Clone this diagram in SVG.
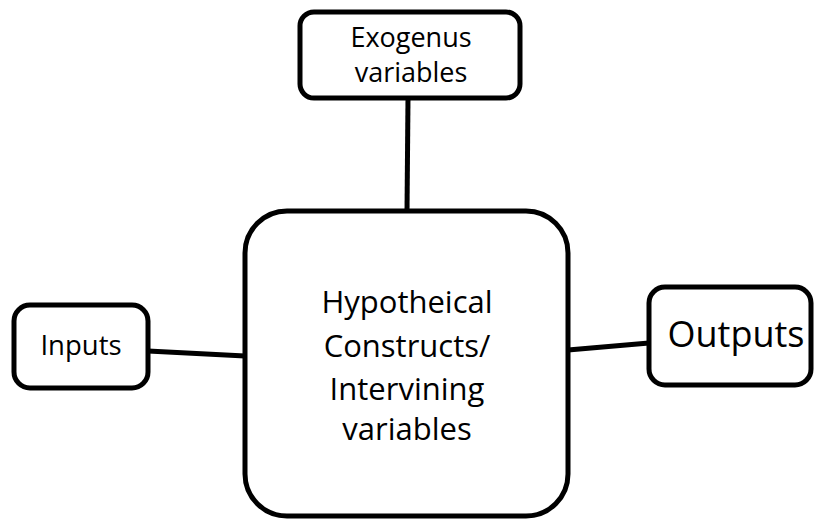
<svg xmlns="http://www.w3.org/2000/svg" width="815" height="521" viewBox="0 0 815 521">
<style>
.box{fill:#fff;stroke:#000;stroke-width:5}
.ln{stroke:#000;stroke-width:5;fill:none}
text{font-family:"Open Sans","Liberation Sans",sans-serif;fill:#000;text-anchor:middle}
.main{font-size:31px}
</style>
<rect width="815" height="521" fill="#fff"/>
<g id="connectors">
<line class="ln" x1="408" y1="98" x2="407" y2="211"/>
<line class="ln" x1="148" y1="351" x2="245" y2="356"/>
<line class="ln" x1="568" y1="350" x2="649" y2="343"/>
</g>
<g id="exogenus">
<rect class="box" x="300" y="12" width="220" height="86" rx="14"/>
<text x="411" y="47" font-size="27">Exogenus</text>
<text x="411" y="82" font-size="27">variables</text>
</g>
<g id="inputs">
<rect class="box" x="14" y="305" width="134" height="83" rx="16"/>
<text x="81" y="355" font-size="27.5">Inputs</text>
</g>
<g id="central">
<rect class="box" x="245" y="211" width="323" height="305" rx="42"/>
<text class="main" x="407" y="313">Hypotheical</text>
<text class="main" x="407" y="357">Constructs/</text>
<text class="main" x="407" y="400">Intervining</text>
<text class="main" x="407" y="440">variables</text>
</g>
<g id="outputs">
<rect class="box" x="649" y="287" width="162" height="98" rx="16"/>
<text x="736" y="347" font-size="36">Outputs</text>
</g>
</svg>
